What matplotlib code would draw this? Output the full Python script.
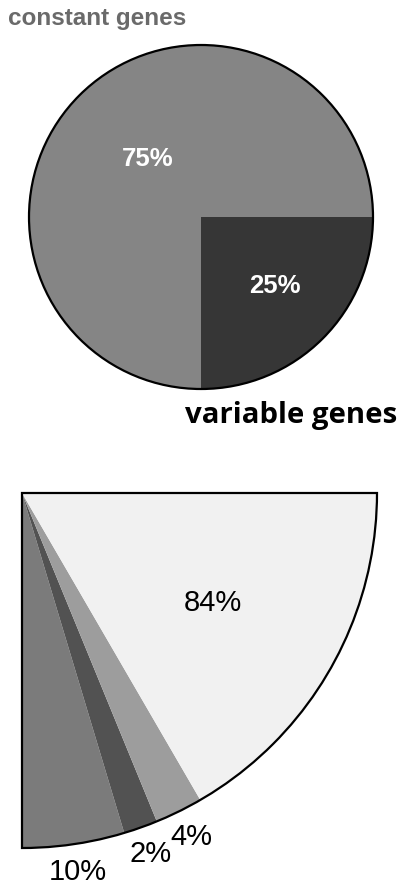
import numpy as np
import matplotlib
matplotlib.use("Agg")
import matplotlib.pyplot as plt
from matplotlib.patches import Circle, Wedge

# top pie: share of genes
gene_groups = ["variable genes", "constant genes"]
gene_share = [25, 75]
gene_colors = ["#363636", "#858585"]

# bottom quarter: breakdown of the variable genes
sub_labels = ["10%", "2%", "4%", "84%"]
sub_drawn = [18.6, 6.2, 8.7, 66.5]   # share of the quarter as drawn in the figure
sub_colors = ["#7b7b7b", "#525252", "#9d9d9d", "#f1f1f1"]

fig = plt.figure(figsize=(4.01, 8.85), dpi=100)
ax = fig.add_axes([0, 0, 1, 1])

# ---- top pie
c_top = (201, 668)
r_top = 172
wedges, _ = ax.pie(gene_share, colors=gene_colors, startangle=-90, counterclock=True,
                   center=c_top, radius=r_top, wedgeprops=dict(linewidth=0), frame=True)
ax.add_patch(Circle(c_top, r_top, fill=False, ec="black", lw=1.6))

top_dist = [0.58, 0.46]
for w, txt, d in zip(wedges, gene_share, top_dist):
    th = np.deg2rad((w.theta1 + w.theta2) / 2)
    ax.text(c_top[0] + d * r_top * np.cos(th) + 3, c_top[1] + d * r_top * np.sin(th) + 2,
            f"{txt}%", color="white", fontsize=18.5, fontweight="bold",
            family="Liberation Sans", ha="center", va="center")

ax.text(8, 867, "constant genes", color="#6a6a6a", fontsize=17.5, fontweight="bold",
        family="Liberation Sans", ha="left", va="center")
ax.text(397, 470, "variable genes", color="black", fontsize=21.2, fontweight="bold",
        family="Open Sans", ha="right", va="center")

# ---- bottom quarter
c_bot = (22, 392)
r_bot = 355
vals = np.array(sub_drawn) / 400.0
wedges2, _ = ax.pie(vals, colors=sub_colors, startangle=-90, counterclock=True, normalize=False,
                    center=c_bot, radius=r_bot, wedgeprops=dict(linewidth=0), frame=True)
ax.add_patch(Wedge(c_bot, r_bot, -90, 0, fill=False, ec="black", lw=1.6))

bot_dist = [1.08, 1.08, 1.08, 0.62]
for w, lab, d in zip(wedges2, sub_labels, bot_dist):
    th = np.deg2rad((w.theta1 + w.theta2) / 2)
    ax.text(c_bot[0] + d * r_bot * np.cos(th), c_bot[1] + d * r_bot * np.sin(th),
            lab, color="black", fontsize=21, family="Liberation Sans",
            ha="center", va="center")

ax.set_xlim(0, 401)
ax.set_ylim(0, 885)
ax.set_aspect("equal")
ax.axis("off")

fig.savefig("out.png", dpi=100)
